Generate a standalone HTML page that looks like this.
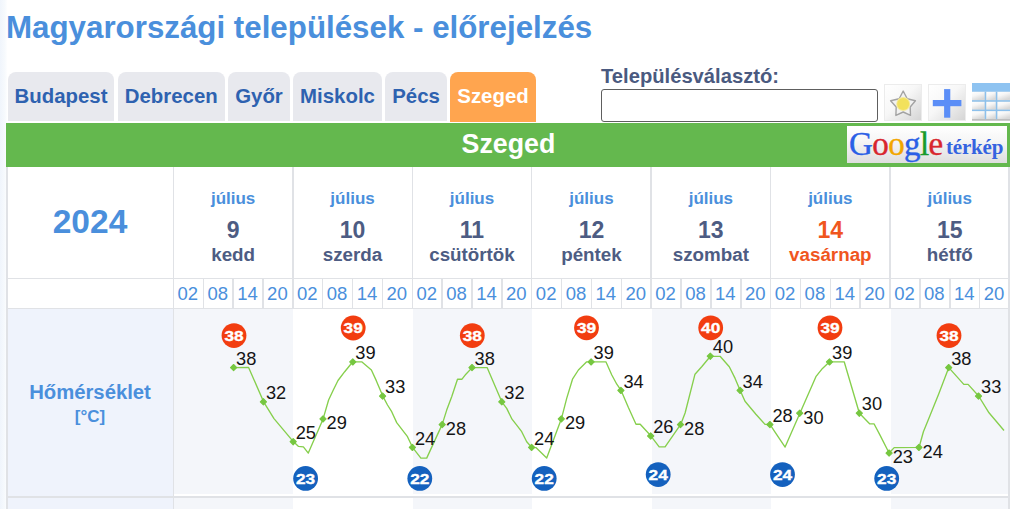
<!DOCTYPE html>
<html><head><meta charset="utf-8"><style>
html,body{margin:0;padding:0;width:1024px;height:509px;overflow:hidden;background:#fff;}
body{font-family:"Liberation Sans",sans-serif;position:relative;}
.a{position:absolute;white-space:nowrap;}
#lstrip{left:0;top:0;width:7px;height:509px;background:linear-gradient(to right,#f0f5fc,#f7fafd 70%,#fdfeff);}
#title{left:6px;top:10px;font-size:31.3px;font-weight:bold;color:#4a8fdc;line-height:36px;}
.tab{position:absolute;top:72px;height:49px;background:#e8e9ee;border-radius:8px 8px 0 0;font-weight:bold;font-size:20.4px;color:#2e62b0;line-height:49px;text-align:center;}
#lbl{left:601px;top:64.7px;font-size:20.2px;font-weight:bold;color:#4a5a80;}
#inp{left:601px;top:88.6px;width:274.5px;height:31px;border:1px solid #5e5e5e;border-radius:3px;background:#fff;}
#green{left:6px;top:123px;width:1004px;height:43.5px;background:#64b84e;}
#gtext{left:0;top:123px;width:1017px;text-align:center;font-size:26.8px;font-weight:bold;color:#fff;line-height:43px;}
#gbtn{left:847px;top:126px;width:160px;height:37px;background:linear-gradient(#ffffff,#f6f6f6 40%,#dedede);}
.bg{position:absolute;}
.ln{position:absolute;background:#e0e2e6;}
.mon{position:absolute;top:189px;font-size:17px;font-weight:bold;color:#4a8fdc;text-align:center;line-height:20px;}
.dn{position:absolute;top:216.7px;font-size:23px;font-weight:bold;color:#4d5c83;text-align:center;line-height:26px;}
.dw{position:absolute;top:244px;font-size:18.8px;font-weight:bold;color:#4d5c83;text-align:center;line-height:21px;}
.hr{position:absolute;top:283px;font-size:18.5px;color:#4a8fdc;text-align:center;line-height:21px;}
</style></head><body>
<div id="lstrip" class="a"></div>
<div id="title" class="a">Magyarországi települések - előrejelzés</div>
<div class="tab" style="left:8px;width:106px">Budapest</div>
<div class="tab" style="left:118px;width:106.5px">Debrecen</div>
<div class="tab" style="left:228px;width:62px">Győr</div>
<div class="tab" style="left:293px;width:89px">Miskolc</div>
<div class="tab" style="left:385px;width:62px">Pécs</div>
<div class="tab" style="left:450px;width:86px;background:#ffa54f;color:#fff;height:50px">Szeged</div>
<div id="lbl" class="a">Településválasztó:</div>
<div id="inp" class="a"></div>
<div id="green" class="a"></div>
<div id="gtext" class="a">Szeged</div>
<div id="gbtn" class="a"></div>
<div class="a" style="left:849px;top:123px;font-family:'Liberation Serif',serif;font-size:33px;line-height:42px;letter-spacing:-0.6px;-webkit-text-stroke:0.4px"><span style="color:#2b5fe6">G</span><span style="color:#d8262e">o</span><span style="color:#f2a600">o</span><span style="color:#2b5fe6">g</span><span style="color:#199a2c">l</span><span style="color:#d8262e">e</span></div>
<div class="a" style="left:946px;top:134.5px;font-family:'Liberation Serif',serif;font-weight:bold;font-size:21px;line-height:24px;color:#3563e0;letter-spacing:-0.2px">térkép</div>
<svg class="a" style="left:0;top:0" width="1024" height="130" viewBox="0 0 1024 130">
<defs>
<linearGradient id="gb" x1="0" y1="0" x2="1" y2="1"><stop offset="0" stop-color="#ffffff"/><stop offset="0.45" stop-color="#f7f7f7"/><stop offset="1" stop-color="#d4d4d4"/></linearGradient>
<linearGradient id="gc" x1="0" y1="0" x2="0.5" y2="1"><stop offset="0" stop-color="#ffffff"/><stop offset="0.45" stop-color="#f6f6f6"/><stop offset="1" stop-color="#d8d8d8"/></linearGradient>
</defs>
<rect x="884.5" y="84.5" width="37" height="36" fill="url(#gb)" stroke="#ececec" stroke-width="1"/>
<path d="M903.2 91 L907.2 98.8 L915.4 100.8 L910.2 107 L910.5 115.4 L903.2 112 L895.9 115.4 L896.2 107 L890.6 100.8 L899.2 98.8 Z" fill="#f2f2f2" stroke="#a3a3a3" stroke-width="1.4" stroke-linejoin="round"/>
<circle cx="903.2" cy="104" r="7" fill="#f5ea9a"/><circle cx="903.2" cy="104" r="6" fill="#f2e15c"/>
<rect x="928.5" y="84.5" width="37" height="36" fill="url(#gb)" stroke="#ececec" stroke-width="1"/>
<rect x="944.1" y="89.1" width="6.2" height="28.6" fill="#5b8ef7"/>
<rect x="932.8" y="100" width="28.6" height="6.2" fill="#5b8ef7"/>
<rect x="972" y="83" width="38" height="37.5" fill="#e6e6e6"/>
<rect x="972" y="91.7" width="12.7" height="8.5" fill="url(#gc)"/>
<rect x="972" y="101.7" width="12.7" height="7.9" fill="url(#gc)"/>
<rect x="972" y="111.1" width="12.7" height="8.1" fill="url(#gc)"/>
<rect x="986.2" y="91.7" width="9.6" height="8.5" fill="url(#gc)"/>
<rect x="986.2" y="101.7" width="9.6" height="7.9" fill="url(#gc)"/>
<rect x="986.2" y="111.1" width="9.6" height="8.1" fill="url(#gc)"/>
<rect x="997.3" y="91.7" width="12.7" height="8.5" fill="url(#gc)"/>
<rect x="997.3" y="101.7" width="12.7" height="7.9" fill="url(#gc)"/>
<rect x="997.3" y="111.1" width="12.7" height="8.1" fill="url(#gc)"/>
<rect x="972" y="119.2" width="38" height="1.4" fill="#b5b5b5"/>
<rect x="972" y="83" width="38" height="8.7" fill="#8ec3f1"/>
<rect x="984.7" y="91.7" width="1.5" height="27.5" fill="#8cc0ec"/>
<rect x="995.8" y="91.7" width="1.5" height="27.5" fill="#8cc0ec"/>
<rect x="972" y="100.2" width="38" height="1.5" fill="#8cc0ec"/>
<rect x="972" y="109.6" width="38" height="1.5" fill="#8cc0ec"/>
</svg>
<div class="bg" style="left:7.00px;top:308.30px;width:166.40px;height:188.40px;background:#eff3fc"></div>
<div class="bg" style="left:173.90px;top:308.30px;width:119.44px;height:185.40px;background:#f4f6fa"></div>
<div class="bg" style="left:173.90px;top:497.90px;width:119.44px;height:12.30px;background:#f4f6fa"></div>
<div class="bg" style="left:412.79px;top:308.30px;width:119.44px;height:185.40px;background:#f4f6fa"></div>
<div class="bg" style="left:412.79px;top:497.90px;width:119.44px;height:12.30px;background:#f4f6fa"></div>
<div class="bg" style="left:651.67px;top:308.30px;width:119.44px;height:185.40px;background:#f4f6fa"></div>
<div class="bg" style="left:651.67px;top:497.90px;width:119.44px;height:12.30px;background:#f4f6fa"></div>
<div class="bg" style="left:890.56px;top:308.30px;width:119.44px;height:185.40px;background:#f4f6fa"></div>
<div class="bg" style="left:890.56px;top:497.90px;width:119.44px;height:12.30px;background:#f4f6fa"></div>
<div class="bg" style="left:7.00px;top:497.90px;width:166.40px;height:12.30px;background:#eff3fc"></div>
<div class="ln" style="left:6.00px;top:166.50px;width:2.00px;height:342.50px;"></div>
<div class="ln" style="left:1008.00px;top:166.50px;width:2.00px;height:342.50px;"></div>
<div class="ln" style="left:172.65px;top:166.50px;width:1.50px;height:141.80px;"></div>
<div class="ln" style="left:292.09px;top:166.50px;width:1.50px;height:141.80px;"></div>
<div class="ln" style="left:411.54px;top:166.50px;width:1.50px;height:141.80px;"></div>
<div class="ln" style="left:530.98px;top:166.50px;width:1.50px;height:141.80px;"></div>
<div class="ln" style="left:650.42px;top:166.50px;width:1.50px;height:141.80px;"></div>
<div class="ln" style="left:769.86px;top:166.50px;width:1.50px;height:141.80px;"></div>
<div class="ln" style="left:889.31px;top:166.50px;width:1.50px;height:141.80px;"></div>
<div class="ln" style="left:1008.75px;top:166.50px;width:1.50px;height:141.80px;"></div>
<div class="ln" style="left:172.65px;top:496.70px;width:1.50px;height:12.30px;"></div>
<div class="ln" style="left:172.65px;top:308.30px;width:1.50px;height:188.40px;"></div>
<div class="ln" style="left:202.51px;top:278.30px;width:1.50px;height:30.00px;"></div>
<div class="ln" style="left:232.37px;top:278.30px;width:1.50px;height:30.00px;"></div>
<div class="ln" style="left:262.23px;top:278.30px;width:1.50px;height:30.00px;"></div>
<div class="ln" style="left:321.95px;top:278.30px;width:1.50px;height:30.00px;"></div>
<div class="ln" style="left:351.81px;top:278.30px;width:1.50px;height:30.00px;"></div>
<div class="ln" style="left:381.68px;top:278.30px;width:1.50px;height:30.00px;"></div>
<div class="ln" style="left:441.40px;top:278.30px;width:1.50px;height:30.00px;"></div>
<div class="ln" style="left:471.26px;top:278.30px;width:1.50px;height:30.00px;"></div>
<div class="ln" style="left:501.12px;top:278.30px;width:1.50px;height:30.00px;"></div>
<div class="ln" style="left:560.84px;top:278.30px;width:1.50px;height:30.00px;"></div>
<div class="ln" style="left:590.70px;top:278.30px;width:1.50px;height:30.00px;"></div>
<div class="ln" style="left:620.56px;top:278.30px;width:1.50px;height:30.00px;"></div>
<div class="ln" style="left:680.28px;top:278.30px;width:1.50px;height:30.00px;"></div>
<div class="ln" style="left:710.14px;top:278.30px;width:1.50px;height:30.00px;"></div>
<div class="ln" style="left:740.00px;top:278.30px;width:1.50px;height:30.00px;"></div>
<div class="ln" style="left:799.73px;top:278.30px;width:1.50px;height:30.00px;"></div>
<div class="ln" style="left:829.59px;top:278.30px;width:1.50px;height:30.00px;"></div>
<div class="ln" style="left:859.45px;top:278.30px;width:1.50px;height:30.00px;"></div>
<div class="ln" style="left:919.17px;top:278.30px;width:1.50px;height:30.00px;"></div>
<div class="ln" style="left:949.03px;top:278.30px;width:1.50px;height:30.00px;"></div>
<div class="ln" style="left:978.89px;top:278.30px;width:1.50px;height:30.00px;"></div>
<div class="ln" style="left:7.00px;top:277.55px;width:1002.00px;height:1.50px;"></div>
<div class="ln" style="left:7.00px;top:307.55px;width:1002.00px;height:1.50px;"></div>
<div class="ln" style="left:7.00px;top:495.60px;width:1002.00px;height:2.30px;"></div>
<div class="a" style="left:7px;top:203px;width:166px;text-align:center;font-size:33.5px;font-weight:bold;color:#4a8fdc;line-height:37px">2024</div>
<div class="mon" style="left:173.40px;width:119.44px">július</div>
<div class="dn" style="left:173.40px;width:119.44px;">9</div>
<div class="dw" style="left:173.40px;width:119.44px;">kedd</div>
<div class="hr" style="left:172.90px;width:29.86px">02</div>
<div class="hr" style="left:202.76px;width:29.86px">08</div>
<div class="hr" style="left:232.62px;width:29.86px">14</div>
<div class="hr" style="left:262.48px;width:29.86px">20</div>
<div class="mon" style="left:292.84px;width:119.44px">július</div>
<div class="dn" style="left:292.84px;width:119.44px;">10</div>
<div class="dw" style="left:292.84px;width:119.44px;">szerda</div>
<div class="hr" style="left:292.34px;width:29.86px">02</div>
<div class="hr" style="left:322.20px;width:29.86px">08</div>
<div class="hr" style="left:352.06px;width:29.86px">14</div>
<div class="hr" style="left:381.93px;width:29.86px">20</div>
<div class="mon" style="left:412.29px;width:119.44px">július</div>
<div class="dn" style="left:412.29px;width:119.44px;">11</div>
<div class="dw" style="left:412.29px;width:119.44px;">csütörtök</div>
<div class="hr" style="left:411.79px;width:29.86px">02</div>
<div class="hr" style="left:441.65px;width:29.86px">08</div>
<div class="hr" style="left:471.51px;width:29.86px">14</div>
<div class="hr" style="left:501.37px;width:29.86px">20</div>
<div class="mon" style="left:531.73px;width:119.44px">július</div>
<div class="dn" style="left:531.73px;width:119.44px;">12</div>
<div class="dw" style="left:531.73px;width:119.44px;">péntek</div>
<div class="hr" style="left:531.23px;width:29.86px">02</div>
<div class="hr" style="left:561.09px;width:29.86px">08</div>
<div class="hr" style="left:590.95px;width:29.86px">14</div>
<div class="hr" style="left:620.81px;width:29.86px">20</div>
<div class="mon" style="left:651.17px;width:119.44px">július</div>
<div class="dn" style="left:651.17px;width:119.44px;">13</div>
<div class="dw" style="left:651.17px;width:119.44px;">szombat</div>
<div class="hr" style="left:650.67px;width:29.86px">02</div>
<div class="hr" style="left:680.53px;width:29.86px">08</div>
<div class="hr" style="left:710.39px;width:29.86px">14</div>
<div class="hr" style="left:740.25px;width:29.86px">20</div>
<div class="mon" style="left:770.61px;width:119.44px">július</div>
<div class="dn" style="left:770.61px;width:119.44px;color:#f0561e;">14</div>
<div class="dw" style="left:770.61px;width:119.44px;color:#f0561e;">vasárnap</div>
<div class="hr" style="left:770.11px;width:29.86px">02</div>
<div class="hr" style="left:799.98px;width:29.86px">08</div>
<div class="hr" style="left:829.84px;width:29.86px">14</div>
<div class="hr" style="left:859.70px;width:29.86px">20</div>
<div class="mon" style="left:890.06px;width:119.44px">július</div>
<div class="dn" style="left:890.06px;width:119.44px;">15</div>
<div class="dw" style="left:890.06px;width:119.44px;">hétfő</div>
<div class="hr" style="left:889.56px;width:29.86px">02</div>
<div class="hr" style="left:919.42px;width:29.86px">08</div>
<div class="hr" style="left:949.28px;width:29.86px">14</div>
<div class="hr" style="left:979.14px;width:29.86px">20</div>
<div class="a" style="left:7px;top:381px;width:166px;text-align:center;font-size:20.3px;font-weight:bold;color:#4a8fdc;line-height:23px">Hőmérséklet</div>
<div class="a" style="left:7px;top:406.5px;width:166px;text-align:center;font-size:17px;font-weight:bold;color:#4a8fdc;line-height:19px">[°C]</div>
<svg class="a" style="left:0;top:0" width="1024" height="509" viewBox="0 0 1024 509">
<polyline points="233.7,367.6 248.6,367.4 263.6,401.8 274.0,418.6 293.3,441.6 298.3,446.3 303.4,446.9 308.3,453.1 323.1,418.9 328.6,400.0 333.3,390.0 338.0,380.5 344.7,371.7 352.8,361.8 361.7,361.8 371.4,370.0 376.4,380.9 382.8,396.1 387.5,405.0 391.7,411.7 396.7,422.6 401.7,429.2 407.5,436.7 412.5,447.3 420.9,458.1 426.7,458.1 442.2,424.4 446.7,410.1 451.7,396.8 457.5,379.2 462.0,379.2 465.9,374.2 472.1,367.6 487.1,367.6 501.8,401.8 506.7,408.4 512.0,419.2 516.7,425.1 521.7,431.7 526.7,441.8 531.6,447.3 535.9,447.6 546.7,458.1 561.4,418.8 566.7,398.4 572.5,379.2 578.4,370.0 586.7,361.8 591.2,361.8 605.9,361.8 611.8,375.0 616.8,384.2 621.1,390.4 628.4,407.5 636.0,424.2 640.2,424.2 650.8,435.8 659.2,446.8 665.1,446.8 680.7,424.4 685.1,413.0 695.0,374.2 701.7,366.7 710.4,356.3 720.1,356.3 729.3,366.7 735.1,378.4 740.2,390.4 745.0,401.3 755.9,414.2 765.0,424.4 770.0,424.4 774.2,430.9 785.1,447.1 799.9,413.2 815.9,376.7 822.5,368.4 829.6,361.8 844.2,361.8 859.4,413.2 869.6,423.8 874.0,423.8 880.0,435.1 889.1,453.0 894.2,447.6 919.1,447.3 923.4,431.7 928.5,419.2 938.7,394.1 948.8,367.6 963.8,384.4 968.1,384.4 978.6,396.0 989.0,412.8 1004.0,430.5" fill="none" stroke="#86cf4c" stroke-width="1.35" stroke-linejoin="round"/>
<path d="M230.5 367.6L233.6 364.5L236.7 367.6L233.6 370.7Z" fill="#76c740" stroke="#76c740" stroke-width="1.1" stroke-linejoin="round"/>
<path d="M260.3 401.8L263.4 398.7L266.5 401.8L263.4 404.9Z" fill="#76c740" stroke="#76c740" stroke-width="1.1" stroke-linejoin="round"/>
<path d="M290.1 441.7L293.2 438.6L296.3 441.7L293.2 444.8Z" fill="#76c740" stroke="#76c740" stroke-width="1.1" stroke-linejoin="round"/>
<path d="M319.9 418.9L323.0 415.8L326.1 418.9L323.0 422.0Z" fill="#76c740" stroke="#76c740" stroke-width="1.1" stroke-linejoin="round"/>
<path d="M349.7 361.9L352.8 358.8L355.9 361.9L352.8 365.0Z" fill="#76c740" stroke="#76c740" stroke-width="1.1" stroke-linejoin="round"/>
<path d="M379.5 396.1L382.6 393.0L385.7 396.1L382.6 399.2Z" fill="#76c740" stroke="#76c740" stroke-width="1.1" stroke-linejoin="round"/>
<path d="M409.3 447.4L412.4 444.3L415.5 447.4L412.4 450.5Z" fill="#76c740" stroke="#76c740" stroke-width="1.1" stroke-linejoin="round"/>
<path d="M439.1 424.6L442.2 421.5L445.3 424.6L442.2 427.7Z" fill="#76c740" stroke="#76c740" stroke-width="1.1" stroke-linejoin="round"/>
<path d="M468.9 367.6L472.0 364.5L475.1 367.6L472.0 370.7Z" fill="#76c740" stroke="#76c740" stroke-width="1.1" stroke-linejoin="round"/>
<path d="M498.7 401.8L501.8 398.7L504.9 401.8L501.8 404.9Z" fill="#76c740" stroke="#76c740" stroke-width="1.1" stroke-linejoin="round"/>
<path d="M528.5 447.4L531.6 444.3L534.7 447.4L531.6 450.5Z" fill="#76c740" stroke="#76c740" stroke-width="1.1" stroke-linejoin="round"/>
<path d="M558.2 418.9L561.3 415.8L564.4 418.9L561.3 422.0Z" fill="#76c740" stroke="#76c740" stroke-width="1.1" stroke-linejoin="round"/>
<path d="M588.0 361.9L591.1 358.8L594.2 361.9L591.1 365.0Z" fill="#76c740" stroke="#76c740" stroke-width="1.1" stroke-linejoin="round"/>
<path d="M617.8 390.4L620.9 387.3L624.0 390.4L620.9 393.5Z" fill="#76c740" stroke="#76c740" stroke-width="1.1" stroke-linejoin="round"/>
<path d="M647.6 436.0L650.7 432.9L653.8 436.0L650.7 439.1Z" fill="#76c740" stroke="#76c740" stroke-width="1.1" stroke-linejoin="round"/>
<path d="M677.4 424.6L680.5 421.5L683.6 424.6L680.5 427.7Z" fill="#76c740" stroke="#76c740" stroke-width="1.1" stroke-linejoin="round"/>
<path d="M707.2 356.2L710.3 353.1L713.4 356.2L710.3 359.3Z" fill="#76c740" stroke="#76c740" stroke-width="1.1" stroke-linejoin="round"/>
<path d="M737.0 390.4L740.1 387.3L743.2 390.4L740.1 393.5Z" fill="#76c740" stroke="#76c740" stroke-width="1.1" stroke-linejoin="round"/>
<path d="M766.8 424.6L769.9 421.5L773.0 424.6L769.9 427.7Z" fill="#76c740" stroke="#76c740" stroke-width="1.1" stroke-linejoin="round"/>
<path d="M796.6 413.2L799.7 410.1L802.8 413.2L799.7 416.3Z" fill="#76c740" stroke="#76c740" stroke-width="1.1" stroke-linejoin="round"/>
<path d="M826.4 361.9L829.5 358.8L832.6 361.9L829.5 365.0Z" fill="#76c740" stroke="#76c740" stroke-width="1.1" stroke-linejoin="round"/>
<path d="M856.2 413.2L859.3 410.1L862.4 413.2L859.3 416.3Z" fill="#76c740" stroke="#76c740" stroke-width="1.1" stroke-linejoin="round"/>
<path d="M886.0 453.1L889.1 450.0L892.2 453.1L889.1 456.2Z" fill="#76c740" stroke="#76c740" stroke-width="1.1" stroke-linejoin="round"/>
<path d="M915.8 447.4L918.9 444.3L922.0 447.4L918.9 450.5Z" fill="#76c740" stroke="#76c740" stroke-width="1.1" stroke-linejoin="round"/>
<path d="M945.6 367.6L948.7 364.5L951.8 367.6L948.7 370.7Z" fill="#76c740" stroke="#76c740" stroke-width="1.1" stroke-linejoin="round"/>
<path d="M975.4 396.1L978.5 393.0L981.6 396.1L978.5 399.2Z" fill="#76c740" stroke="#76c740" stroke-width="1.1" stroke-linejoin="round"/>
<text x="236.1" y="364.7" font-family="Liberation Sans" font-size="19" fill="#151515" textLength="20.3" lengthAdjust="spacingAndGlyphs">38</text>
<text x="265.9" y="398.9" font-family="Liberation Sans" font-size="19" fill="#151515" textLength="20.3" lengthAdjust="spacingAndGlyphs">32</text>
<text x="295.7" y="438.8" font-family="Liberation Sans" font-size="19" fill="#151515" textLength="20.3" lengthAdjust="spacingAndGlyphs">25</text>
<text x="326.6" y="429.2" font-family="Liberation Sans" font-size="19" fill="#151515" textLength="20.3" lengthAdjust="spacingAndGlyphs">29</text>
<text x="355.3" y="359.0" font-family="Liberation Sans" font-size="19" fill="#151515" textLength="20.3" lengthAdjust="spacingAndGlyphs">39</text>
<text x="385.1" y="393.2" font-family="Liberation Sans" font-size="19" fill="#151515" textLength="20.3" lengthAdjust="spacingAndGlyphs">33</text>
<text x="414.9" y="444.5" font-family="Liberation Sans" font-size="19" fill="#151515" textLength="20.3" lengthAdjust="spacingAndGlyphs">24</text>
<text x="445.8" y="434.9" font-family="Liberation Sans" font-size="19" fill="#151515" textLength="20.3" lengthAdjust="spacingAndGlyphs">28</text>
<text x="474.5" y="364.7" font-family="Liberation Sans" font-size="19" fill="#151515" textLength="20.3" lengthAdjust="spacingAndGlyphs">38</text>
<text x="504.3" y="398.9" font-family="Liberation Sans" font-size="19" fill="#151515" textLength="20.3" lengthAdjust="spacingAndGlyphs">32</text>
<text x="534.1" y="444.5" font-family="Liberation Sans" font-size="19" fill="#151515" textLength="20.3" lengthAdjust="spacingAndGlyphs">24</text>
<text x="564.9" y="429.2" font-family="Liberation Sans" font-size="19" fill="#151515" textLength="20.3" lengthAdjust="spacingAndGlyphs">29</text>
<text x="593.6" y="359.0" font-family="Liberation Sans" font-size="19" fill="#151515" textLength="20.3" lengthAdjust="spacingAndGlyphs">39</text>
<text x="623.4" y="387.5" font-family="Liberation Sans" font-size="19" fill="#151515" textLength="20.3" lengthAdjust="spacingAndGlyphs">34</text>
<text x="653.2" y="433.1" font-family="Liberation Sans" font-size="19" fill="#151515" textLength="20.3" lengthAdjust="spacingAndGlyphs">26</text>
<text x="684.1" y="434.9" font-family="Liberation Sans" font-size="19" fill="#151515" textLength="20.3" lengthAdjust="spacingAndGlyphs">28</text>
<text x="712.8" y="353.3" font-family="Liberation Sans" font-size="19" fill="#151515" textLength="20.3" lengthAdjust="spacingAndGlyphs">40</text>
<text x="742.6" y="387.5" font-family="Liberation Sans" font-size="19" fill="#151515" textLength="20.3" lengthAdjust="spacingAndGlyphs">34</text>
<text x="772.4" y="421.7" font-family="Liberation Sans" font-size="19" fill="#151515" textLength="20.3" lengthAdjust="spacingAndGlyphs">28</text>
<text x="803.3" y="423.5" font-family="Liberation Sans" font-size="19" fill="#151515" textLength="20.3" lengthAdjust="spacingAndGlyphs">30</text>
<text x="832.0" y="359.0" font-family="Liberation Sans" font-size="19" fill="#151515" textLength="20.3" lengthAdjust="spacingAndGlyphs">39</text>
<text x="861.8" y="410.3" font-family="Liberation Sans" font-size="19" fill="#151515" textLength="20.3" lengthAdjust="spacingAndGlyphs">30</text>
<text x="892.7" y="463.4" font-family="Liberation Sans" font-size="19" fill="#151515" textLength="20.3" lengthAdjust="spacingAndGlyphs">23</text>
<text x="922.5" y="457.7" font-family="Liberation Sans" font-size="19" fill="#151515" textLength="20.3" lengthAdjust="spacingAndGlyphs">24</text>
<text x="951.2" y="364.7" font-family="Liberation Sans" font-size="19" fill="#151515" textLength="20.3" lengthAdjust="spacingAndGlyphs">38</text>
<text x="981.0" y="393.2" font-family="Liberation Sans" font-size="19" fill="#151515" textLength="20.3" lengthAdjust="spacingAndGlyphs">33</text>
<circle cx="234" cy="335.6" r="12.4" fill="#f23d10"/>
<text x="224.4" y="340.8" font-family="Liberation Sans" font-weight="bold" font-size="14.6" fill="#fff" stroke="#fff" stroke-width="0.35" textLength="19.2" lengthAdjust="spacingAndGlyphs">38</text>
<circle cx="353.2" cy="328" r="12.4" fill="#f23d10"/>
<text x="343.6" y="333.2" font-family="Liberation Sans" font-weight="bold" font-size="14.6" fill="#fff" stroke="#fff" stroke-width="0.35" textLength="19.2" lengthAdjust="spacingAndGlyphs">39</text>
<circle cx="472.3" cy="335.6" r="12.4" fill="#f23d10"/>
<text x="462.7" y="340.8" font-family="Liberation Sans" font-weight="bold" font-size="14.6" fill="#fff" stroke="#fff" stroke-width="0.35" textLength="19.2" lengthAdjust="spacingAndGlyphs">38</text>
<circle cx="586.5" cy="327.8" r="12.4" fill="#f23d10"/>
<text x="576.9" y="333.0" font-family="Liberation Sans" font-weight="bold" font-size="14.6" fill="#fff" stroke="#fff" stroke-width="0.35" textLength="19.2" lengthAdjust="spacingAndGlyphs">39</text>
<circle cx="710.7" cy="327.8" r="12.4" fill="#f23d10"/>
<text x="701.1" y="333.0" font-family="Liberation Sans" font-weight="bold" font-size="14.6" fill="#fff" stroke="#fff" stroke-width="0.35" textLength="19.2" lengthAdjust="spacingAndGlyphs">40</text>
<circle cx="830" cy="327.8" r="12.4" fill="#f23d10"/>
<text x="820.4" y="333.0" font-family="Liberation Sans" font-weight="bold" font-size="14.6" fill="#fff" stroke="#fff" stroke-width="0.35" textLength="19.2" lengthAdjust="spacingAndGlyphs">39</text>
<circle cx="949" cy="335.6" r="12.4" fill="#f23d10"/>
<text x="939.4" y="340.8" font-family="Liberation Sans" font-weight="bold" font-size="14.6" fill="#fff" stroke="#fff" stroke-width="0.35" textLength="19.2" lengthAdjust="spacingAndGlyphs">38</text>
<circle cx="305.6" cy="478.4" r="12.4" fill="#1461be"/>
<text x="296.0" y="483.6" font-family="Liberation Sans" font-weight="bold" font-size="14.6" fill="#fff" stroke="#fff" stroke-width="0.35" textLength="19.2" lengthAdjust="spacingAndGlyphs">23</text>
<circle cx="419.8" cy="478.4" r="12.4" fill="#1461be"/>
<text x="410.2" y="483.6" font-family="Liberation Sans" font-weight="bold" font-size="14.6" fill="#fff" stroke="#fff" stroke-width="0.35" textLength="19.2" lengthAdjust="spacingAndGlyphs">22</text>
<circle cx="544.2" cy="478.4" r="12.4" fill="#1461be"/>
<text x="534.6" y="483.6" font-family="Liberation Sans" font-weight="bold" font-size="14.6" fill="#fff" stroke="#fff" stroke-width="0.35" textLength="19.2" lengthAdjust="spacingAndGlyphs">22</text>
<circle cx="658.2" cy="474.6" r="12.4" fill="#1461be"/>
<text x="648.6" y="479.8" font-family="Liberation Sans" font-weight="bold" font-size="14.6" fill="#fff" stroke="#fff" stroke-width="0.35" textLength="19.2" lengthAdjust="spacingAndGlyphs">24</text>
<circle cx="782.5" cy="474.6" r="12.4" fill="#1461be"/>
<text x="772.9" y="479.8" font-family="Liberation Sans" font-weight="bold" font-size="14.6" fill="#fff" stroke="#fff" stroke-width="0.35" textLength="19.2" lengthAdjust="spacingAndGlyphs">24</text>
<circle cx="886.7" cy="478.4" r="12.4" fill="#1461be"/>
<text x="877.1" y="483.6" font-family="Liberation Sans" font-weight="bold" font-size="14.6" fill="#fff" stroke="#fff" stroke-width="0.35" textLength="19.2" lengthAdjust="spacingAndGlyphs">23</text>
</svg>
</body></html>
